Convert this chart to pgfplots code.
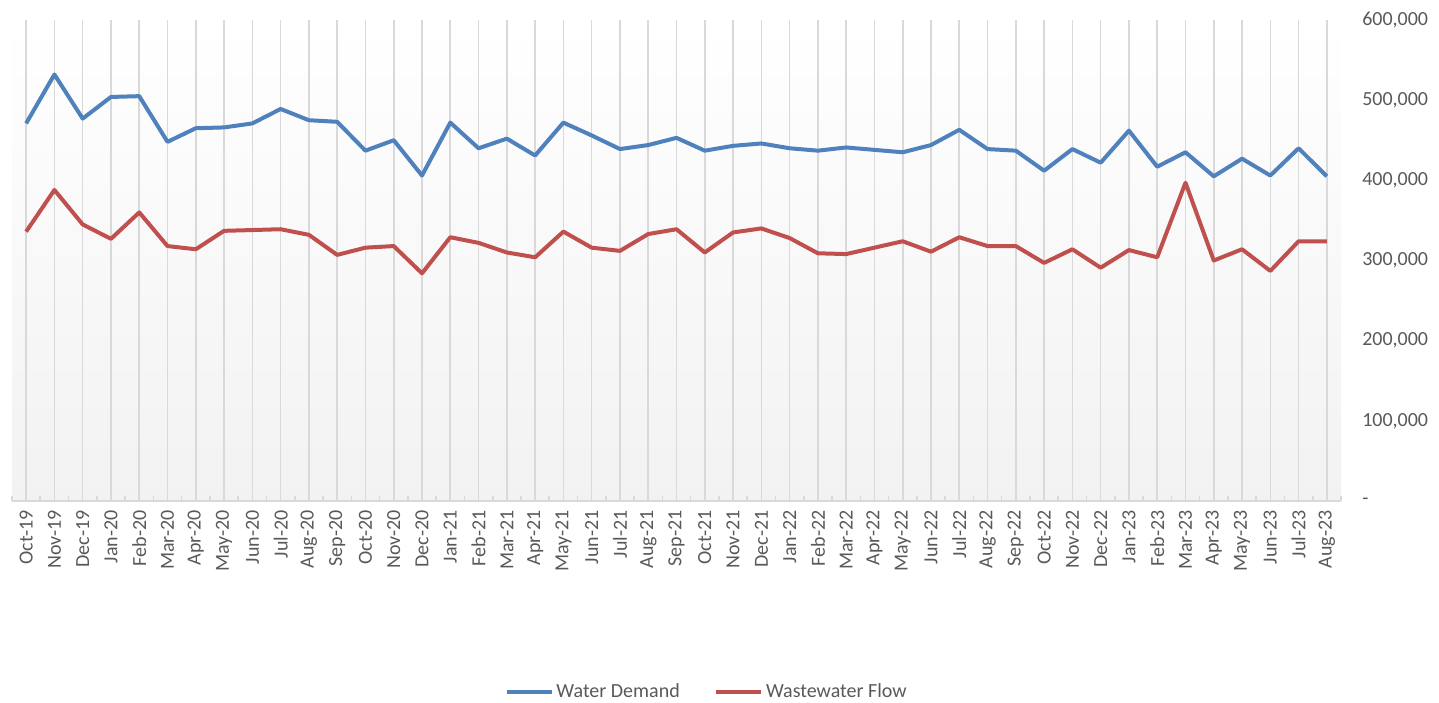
\documentclass[border=0pt]{standalone}
\usepackage{fontspec}
\setmainfont{Carlito}
\setsansfont{Carlito}
\usepackage{pgfplots}
\pgfplotsset{compat=1.18}
\definecolor{demand}{HTML}{4F81BD}
\definecolor{waste}{HTML}{C0504D}
\definecolor{txt}{HTML}{595959}
\definecolor{gridc}{HTML}{D9D9D9}
\definecolor{bgbot}{HTML}{F2F2F2}
\begin{document}
\begin{tikzpicture}
% 1 px of the reference = 0.75pt
\path[use as bounding box] (0,0) rectangle (1079.25pt,527.25pt);
\begin{axis}[
  at={(9pt,151.5pt)}, anchor=south west,
  width=996.75pt, height=360.75pt, scale only axis,
  xmin=-0.5, xmax=46.5, ymin=0, ymax=600000,
  scaled y ticks=false,
  axis x line*=bottom, axis y line*=right,
  x axis line style={draw=gridc, line width=1.2pt},
  y axis line style={draw=none},
  axis background/.style={top color=white, bottom color=bgbot},
  xtick={0,...,46},
  xticklabels={Oct-19,Nov-19,Dec-19,Jan-20,Feb-20,Mar-20,Apr-20,May-20,Jun-20,Jul-20,Aug-20,Sep-20,Oct-20,Nov-20,Dec-20,Jan-21,Feb-21,Mar-21,Apr-21,May-21,Jun-21,Jul-21,Aug-21,Sep-21,Oct-21,Nov-21,Dec-21,Jan-22,Feb-22,Mar-22,Apr-22,May-22,Jun-22,Jul-22,Aug-22,Sep-22,Oct-22,Nov-22,Dec-22,Jan-23,Feb-23,Mar-23,Apr-23,May-23,Jun-23,Jul-23,Aug-23},
  minor xtick={-0.5,0.5,...,46.5},
  major tick length=0pt, minor tick length=4pt, tick align=inside,
  minor tick style={draw=gridc, line width=1.2pt},
  xmajorgrids, major grid style={draw=gridc, line width=1.2pt},
  ytick={0,100000,...,600000},
  yticklabels={{-},{100,000},{200,000},{300,000},{400,000},{500,000},{600,000}},
  ytick style={draw=none},
  tick label style={font=\fontsize{15pt}{18pt}\selectfont, text=txt},
  xticklabel style={rotate=90, anchor=east, inner sep=0pt},
  xticklabel shift=6.75pt,
  yticklabel style={anchor=west, inner sep=0pt},
  yticklabel shift=15.75pt,
  legend style={at={(0.523,-0.397)}, anchor=center, draw=none, fill=none,
    legend columns=2, font=\fontsize{15pt}{18pt}\selectfont, text=txt,
    /tikz/every even column/.append style={column sep=24pt}},
  legend image code/.code={\draw[#1] (0pt,0pt) -- (33.75pt,0pt);},
]
\addplot[demand, line width=3pt, line join=round] coordinates {
(0,471000) (1,532000) (2,477000) (3,504000) (4,505000) (5,448000) (6,465000) (7,466000)
(8,471000) (9,489000) (10,475000) (11,473000) (12,437000) (13,450000) (14,406000) (15,472000)
(16,440000) (17,452000) (18,431000) (19,472000) (20,456000) (21,439000) (22,444000) (23,453000)
(24,437000) (25,443000) (26,446000) (27,440000) (28,437000) (29,441000) (30,438000) (31,435000)
(32,444000) (33,463000) (34,439000) (35,437000) (36,412000) (37,439000) (38,422000) (39,462000)
(40,417000) (41,435000) (42,405000) (43,427000) (44,406000) (45,440000) (46,405000)};
\addlegendentry{Water Demand}
\addplot[waste, line width=3pt, line join=round] coordinates {
(0,336000) (1,388000) (2,345000) (3,327000) (4,360000) (5,318000) (6,314000) (7,337000)
(8,338000) (9,339000) (10,332000) (11,307000) (12,316000) (13,318000) (14,284000) (15,329000)
(16,322000) (17,310000) (18,304000) (19,336000) (20,316000) (21,312000) (22,333000) (23,339000)
(24,310000) (25,335000) (26,340000) (27,328000) (28,309000) (29,308000) (30,316000) (31,324000)
(32,311000) (33,329000) (34,318000) (35,318000) (36,297000) (37,314000) (38,291000) (39,313000)
(40,304000) (41,397000) (42,300000) (43,314000) (44,287000) (45,324000) (46,324000)};
\addlegendentry{Wastewater Flow}
\end{axis}
\end{tikzpicture}
\end{document}
